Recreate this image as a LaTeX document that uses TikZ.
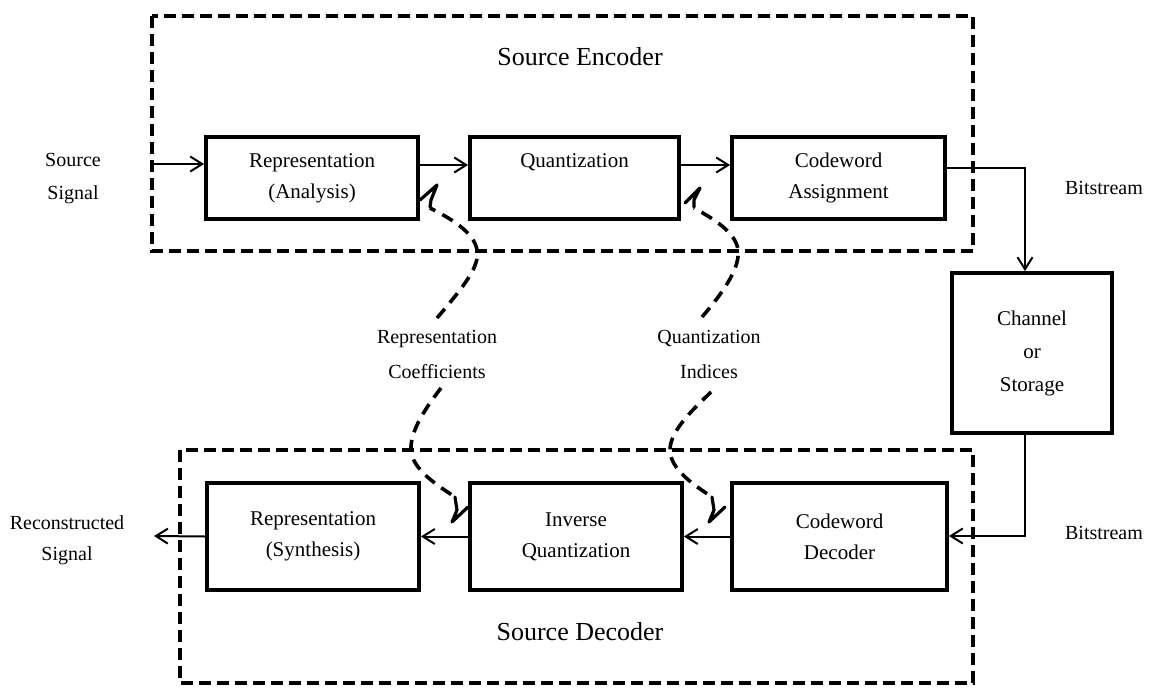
\documentclass[tikz,border=0pt]{standalone}
\usepackage{fontspec}
\setmainfont{Liberation Serif}
\usetikzlibrary{arrows.meta}
\begin{document}
\begin{tikzpicture}[x=1pt,y=-1pt,
  blk/.style={draw,line width=3.8pt,inner sep=0pt,align=center,
    font=\fontsize{21}{31}\selectfont},
  lbl/.style={inner sep=0pt,anchor=base,font=\fontsize{20}{24}\selectfont},
  ttl/.style={inner sep=0pt,anchor=base,font=\fontsize{26}{30}\selectfont},
  flow/.style={line width=2pt,-{Straight Barb[length=12pt,width=15pt,line width=2pt]}},
  group/.style={line width=3.4pt,dash pattern=on 12pt off 6pt},
  side/.style={line width=3.6pt,dash pattern=on 12pt off 8pt,line cap=butt},
  tipmark/.style={line width=3.2pt,line join=round,line cap=round}]
\useasboundingbox (0,0) rectangle (1149,688);

% encoder and decoder groupings
\draw[group] (152,16) rectangle (973,251);
\draw[group] (180,450) rectangle (973,683);
\node[ttl] (enc) at (580,65) {Source Encoder};
\node[ttl] (dec) at (580,640) {Source Decoder};

% encoder blocks
\node[blk,minimum width=212pt,minimum height=82pt] (rep) at (312,178) {Representation\\(Analysis)};
\node[blk,minimum width=209pt,minimum height=82pt] (qua) at (574.5,178) {Quantization\\\phantom{Q}};
\node[blk,minimum width=213pt,minimum height=82pt] (cwa) at (838.5,178) {Codeword\\Assignment};

% channel
\node[blk,minimum width=160pt,minimum height=160pt,font=\fontsize{21}{33}\selectfont] (chn) at (1032,353) {Channel\\or\\Storage};

% decoder blocks
\node[blk,minimum width=212pt,minimum height=107pt] (syn) at (313,536.5) {Representation\\(Synthesis)};
\node[blk,minimum width=212pt,minimum height=107pt] (iqu) at (576,536.5) {Inverse\\Quantization};
\node[blk,minimum width=215pt,minimum height=107pt] (cwd) at (839.5,536.5) {Codeword\\Decoder};

% outside labels
\node[lbl] (srcA) at (73,166) {Source};
\node[lbl] (srcB) at (73,199) {Signal};
\node[lbl] (recA) at (67,529) {Reconstructed};
\node[lbl] (recB) at (67,560) {Signal};
\node[lbl] (bsA) at (1104,194) {Bitstream};
\node[lbl] (bsB) at (1104,539) {Bitstream};
\node[lbl] (rcA) at (437,343) {Representation};
\node[lbl] (rcB) at (437,378) {Coefficients};
\node[lbl] (qiA) at (709,343) {Quantization};
\node[lbl] (qiB) at (709,378) {Indices};

% signal path
\coordinate (in) at (152,164);
\coordinate (out) at (154,536);
\draw[flow] (in) -- (in -| rep.west);
\draw[flow] ([yshift=13pt]rep.east) -- ([yshift=13pt]qua.west);
\draw[flow] ([yshift=13pt]qua.east) -- ([yshift=13pt]cwa.west);
\coordinate (bt) at (1025,168);
\draw[flow] (cwa.east |- bt) -- (bt) -- (bt |- chn.north);
\coordinate (bb) at (1025,536);
\draw[flow] (bb |- chn.south) -- (bb) -- (bb -| cwd.east);
\draw[flow] (cwd.west) -- (iqu.east);
\draw[flow] (iqu.west) -- (syn.east);
\draw[flow] (syn.west) -- (out);

% coefficient and index paths
\draw[side] (437,318) .. controls (465,285) and (480,266) .. (477,250)
  .. controls (474,232) and (450,218) .. (430,208);
\draw[tipmark] (420,200) -- (437,185) -- (431,200) -- (430,207);
\draw[side] (702,317) .. controls (727,288) and (740,266) .. (738,250)
  .. controls (736,232) and (712,218) .. (694,208);
\draw[tipmark] (685,203) -- (700,188) -- (694,200) -- (694,207);

\draw[side] (441,388) .. controls (424,410) and (410,432) .. (411,450)
  .. controls (412,470) and (440,487) .. (455,497);
\draw[tipmark] (455,497) -- (457,510) -- (452,522) -- (468,507);
\draw[side] (711,392) .. controls (690,412) and (670,432) .. (670,450)
  .. controls (670,470) and (697,487) .. (712,497);
\draw[tipmark] (712,497) -- (714,510) -- (709,522) -- (725,507);
\end{tikzpicture}
\end{document}
